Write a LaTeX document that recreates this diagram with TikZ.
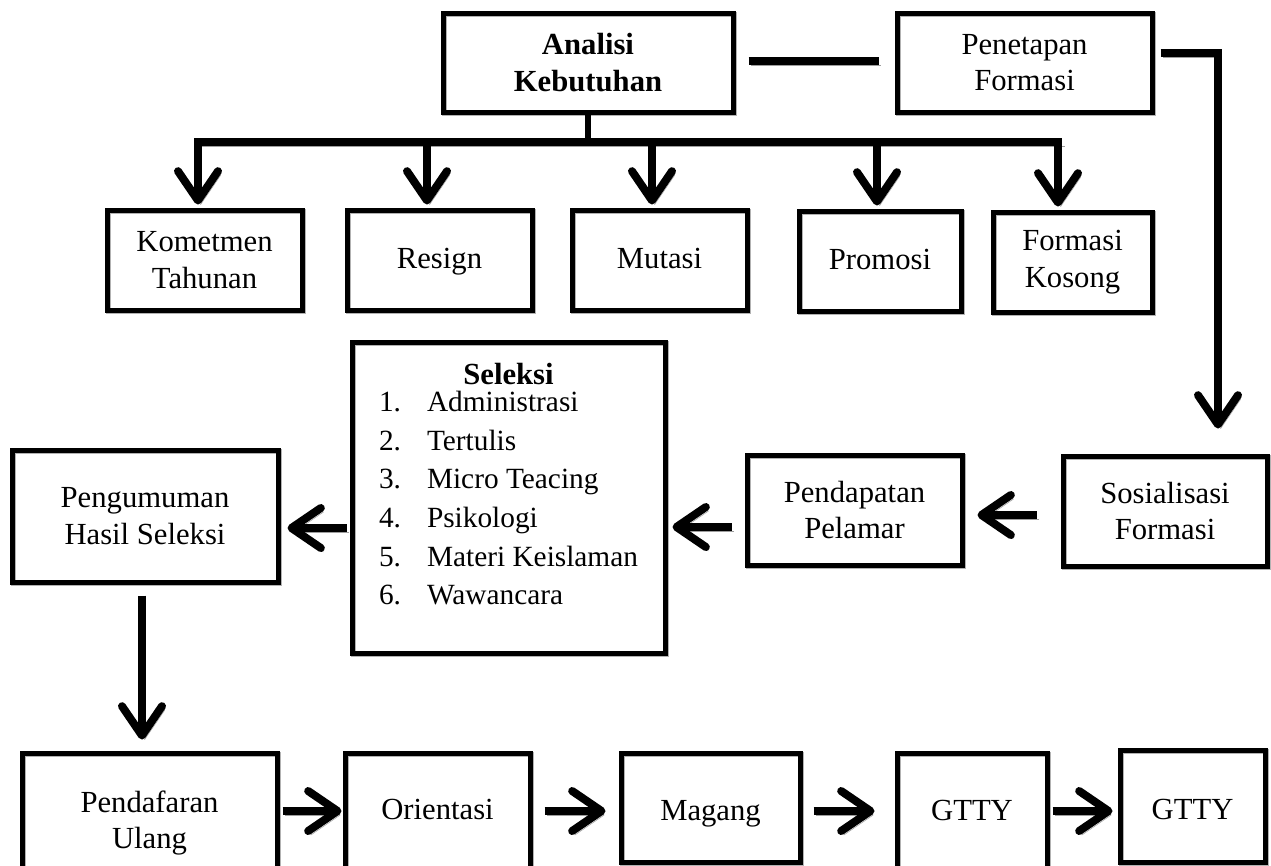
\documentclass[tikz,border=0pt]{standalone}
\usepackage{fontspec}
\setmainfont{Liberation Serif}
\usetikzlibrary{arrows.meta}
\usetikzlibrary{positioning}

\begin{document}
\begin{tikzpicture}[x=0.75pt, y=-0.75pt, font=\fontsize{23}{27.5}\selectfont]
\tikzset{box/.style={draw, line width=3.75pt, align=center, inner sep=0pt,
  preaction={draw=black!30, transform canvas={shift={(1pt,-1pt)}}}}}
\tikzset{one line/.style={text height=17pt, text depth=4pt}}
\tikzset{low line/.style={text height=24pt, text depth=4pt}}
\tikzset{shade it/.style={preaction={draw=black!38, transform canvas={shift={(2pt,-3pt)}}}}}
\tikzstyle{pointer} = [line width=6pt, -{Straight Barb[length=22pt, width=30pt, round]}, shade it]
\tikzstyle{bar} = [line width=6pt, shade it]
\useasboundingbox (0,0) rectangle (1271,865);
\clip (0,0) rectangle (1271,865);
\fill[white] (0,0) rectangle (1271,865);

% top row
\node[box, minimum width=217.5pt, minimum height=74.25pt, font=\fontsize{23}{27.5}\selectfont\bfseries] (ana) at (588,62.5) {Analisi\\Kebutuhan};
\node[box, minimum width=191.25pt, minimum height=74.25pt] (pen) at (1024.5,62.5) {Penetapan\\Formasi};

% second row
\node[box, minimum width=146.25pt, minimum height=75pt] (kom) at (204.5,260) {Kometmen\\Tahunan};
\node[box, one line, minimum width=138.75pt, minimum height=75pt] (res) at (439.5,260) {Resign};
\node[box, one line, minimum width=131.25pt, minimum height=75pt] (mut) at (659.5,260) {Mutasi};
\node[box, one line, minimum width=121.5pt, minimum height=75pt] (pro) at (880,261) {Promosi};
\node[box, minimum width=119.25pt, minimum height=75pt] (fk) at (1072.5,262) {Formasi\\Kosong};

% third row
\node[box, minimum width=234.75pt, minimum height=233.25pt] (sel) at (508.5,497.5) {};
\node[below=13.5pt of sel.north, inner sep=0pt, font=\fontsize{22}{29}\selectfont] (seltxt) {%
  \begin{tabular}{@{}l@{\hspace{19.5pt}}l@{}}
  \multicolumn{2}{c}{\fontsize{23}{29}\selectfont\bfseries Seleksi}\\[-9pt]
  1. & Administrasi\\
  2. & Tertulis\\
  3. & Micro Teacing\\
  4. & Psikologi\\
  5. & Materi Keislaman\\
  6. & Wawancara
  \end{tabular}};
\node[box, minimum width=199.5pt, minimum height=99pt] (pgm) at (145,516) {Pengumuman\\Hasil Seleksi};
\node[box, minimum width=161.25pt, minimum height=82.5pt] (pnd) at (854.5,510) {Pendapatan\\Pelamar};
\node[box, minimum width=153pt, minimum height=82.5pt] (sos) at (1165,511) {Sosialisasi\\Formasi};

% bottom row
\node[box, minimum width=191.25pt, minimum height=105pt] (pdf) at (149.5,823) {Pendafaran\\Ulang};
\node[box, one line, minimum width=138.75pt, minimum height=87pt] (ori) at (437.5,811) {Orientasi};
\node[box, low line, minimum width=134.25pt, minimum height=81.75pt] (mag) at (710.5,807.5) {Magang};
\node[box, one line, minimum width=112.5pt, minimum height=88.5pt] (gt1) at (972,812) {GTTY};
\node[box, low line, minimum width=108.75pt, minimum height=84pt] (gt2) at (1192.5,806) {GTTY};

% connectors
\coordinate (bl) at (194,142);
\coordinate (br) at (1062,142);
\coordinate (t1) at (198,142);
\coordinate (t2) at (427,142);
\coordinate (t3) at (652,142);
\coordinate (t4) at (877,142);
\coordinate (t5) at (1058,142);
\coordinate (lk) at (0,61);
\coordinate (rc) at (1218,53);
\coordinate (h1) at (0,515);
\coordinate (h2) at (0,527);
\coordinate (h3) at (0,528);
\coordinate (h4) at (0,811);
\coordinate (v1) at (142,0);

\draw[line width=4.5pt] (ana.south) -- (ana.south |- bl);
\draw[bar] (bl) -- (br);
\draw[bar, shorten <=9.75pt, shorten >=12pt] (ana.east |- lk) -- (pen.west |- lk);
\draw[pointer, shorten <=4.5pt, shorten >=18.75pt] (pen.east |- rc) -- (rc) -- (rc |- sos.north);

\draw[pointer, shorten >=2.25pt] (t1) -- (t1 |- kom.north);
\draw[pointer, shorten >=2.25pt] (t2) -- (t2 |- res.north);
\draw[pointer, shorten >=2.25pt] (t3) -- (t3 |- mut.north);
\draw[pointer, shorten >=2.25pt] (t4) -- (t4 |- pro.north);
\draw[pointer, shorten >=2.25pt] (t5) -- (t5 |- fk.north);

\draw[pointer, shorten <=18pt, shorten >=9.75pt] (sos.west |- h1) -- (pnd.east |- h1);
\draw[pointer, shorten <=9.75pt, shorten >=3.75pt] (pnd.west |- h2) -- (sel.east |- h2);
\draw[pointer, shorten <=2.25pt, shorten >=5.25pt] (sel.west |- h3) -- (pgm.east |- h3);
\draw[pointer, shorten <=8.25pt, shorten >=8.25pt] (pgm.south -| v1) -- (pdf.north -| v1);

\draw[pointer, shorten <=2.25pt, shorten >=0.75pt] (pdf.east |- h4) -- (ori.west |- h4);
\draw[pointer, shorten <=9pt, shorten >=9.75pt] (ori.east |- h4) -- (mag.west |- h4);
\draw[pointer, shorten <=8.25pt, shorten >=15pt] (mag.east |- h4) -- (gt1.west |- h4);
\draw[pointer, shorten <=2.25pt, shorten >=3.75pt] (gt1.east |- h4) -- (gt2.west |- h4);
\end{tikzpicture}
\end{document}
